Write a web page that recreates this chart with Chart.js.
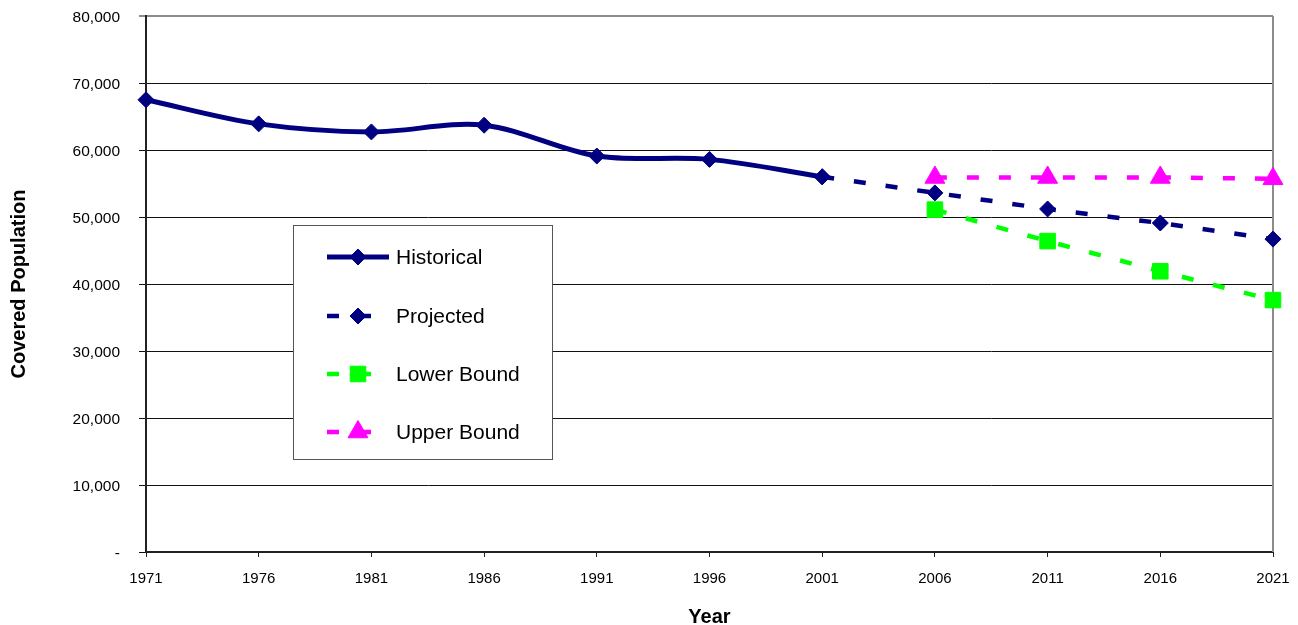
<!DOCTYPE html>
<html>
<head>
<meta charset="utf-8">
<title>Covered Population</title>
<script src="https://cdn.jsdelivr.net/npm/chart.js@4/dist/chart.umd.min.js"></script>
<style>
  html, body { margin: 0; padding: 0; background: #fff; }
  #wrap { width: 1298px; height: 625px; }
</style>
</head>
<body>
<div id="wrap"><canvas id="chart" width="1298" height="625"></canvas></div>
<script>
// Census years on the horizontal axis
const years = ['1971', '1976', '1981', '1986', '1991', '1996', '2001', '2006', '2011', '2016', '2021'];

// Covered population by year (null where a series has no value)
const historical = [67500, 63900, 62700, 63700, 59100, 58600, 56000, null, null, null, null];
const projected  = [null, null, null, null, null, null, 56000, 53600, 51200, 49100, 46700];
const lowerBound = [null, null, null, null, null, null, null, 51100, 46400, 41900, 37600];
const upperBound = [null, null, null, null, null, null, null, 55900, 55900, 55900, 55700];

// Vertical axis range
const yMin = 0;
const yMax = 80000;
const yStep = 10000;

const FONT = "'Liberation Sans', Arial, Helvetica, sans-serif";
const NAVY = '#000080';
const GREEN = '#00FF00';
const MAGENTA = '#FF00FF';

// Let the layout padding alone decide the plot edges
function clearScalePadding(scale) {
  scale.paddingTop = 0;
  scale.paddingBottom = 0;
  scale.paddingLeft = 0;
  scale.paddingRight = 0;
}

// Frame line on the right of the plotting area
const framePlugin = {
  id: 'frame',
  beforeDatasetsDraw(chart) {
    const { ctx, chartArea: a } = chart;
    ctx.save();
    ctx.strokeStyle = '#8c8c8c';
    ctx.lineWidth = 2;
    ctx.beginPath();
    ctx.moveTo(a.right, a.top);
    ctx.lineTo(a.right, a.bottom);
    ctx.stroke();
    ctx.restore();
  }
};

// Boxed legend placed inside the plotting area
const boxLegendPlugin = {
  id: 'boxLegend',
  afterDraw(chart) {
    const { ctx, chartArea: a } = chart;
    const left = a.left + 147;
    const top = a.top + 209;
    const w = 259;
    const h = 234;
    ctx.save();
    ctx.fillStyle = '#ffffff';
    ctx.fillRect(left, top, w, h);
    ctx.strokeStyle = '#555555';
    ctx.lineWidth = 1;
    ctx.strokeRect(left + 0.5, top + 0.5, w, h);

    const rowY = [32, 91, 149, 207];
    chart.data.datasets.forEach((ds, i) => {
      const y = top + rowY[i];
      const x0 = left + 34;
      const x1 = left + 96;
      ctx.save();
      ctx.strokeStyle = ds.borderColor;
      ctx.lineWidth = ds.borderWidth;
      ctx.lineCap = 'butt';
      ctx.setLineDash(ds.borderDash || []);
      ctx.beginPath();
      ctx.moveTo(x0, y);
      ctx.lineTo(x1, y);
      ctx.stroke();
      ctx.restore();

      ctx.save();
      ctx.fillStyle = ds.pointBackgroundColor;
      ctx.strokeStyle = ds.pointBorderColor;
      ctx.lineWidth = ds.pointBorderWidth;
      Chart.helpers.drawPoint(ctx, {
        pointStyle: ds.pointStyle,
        radius: ds.pointRadius,
        borderWidth: ds.pointBorderWidth,
        rotation: 0
      }, (x0 + x1) / 2, y);
      ctx.restore();

      ctx.fillStyle = '#000000';
      ctx.font = '21px ' + FONT;
      ctx.textAlign = 'left';
      ctx.textBaseline = 'middle';
      ctx.fillText(ds.label, left + 103, y + 1);
    });
    ctx.restore();
  }
};

new Chart(document.getElementById('chart'), {
  type: 'line',
  data: {
    labels: years,
    datasets: [
      {
        label: 'Historical',
        data: historical,
        borderColor: NAVY,
        borderWidth: 5,
        tension: 0.33,
        pointStyle: 'rectRot',
        pointRadius: 8,
        pointBackgroundColor: NAVY,
        pointBorderColor: NAVY,
        pointBorderWidth: 1
      },
      {
        label: 'Projected',
        data: projected,
        borderColor: NAVY,
        borderWidth: 4.5,
        borderDash: [12, 20],
        tension: 0,
        pointStyle: 'rectRot',
        pointRadius: 8,
        pointBackgroundColor: NAVY,
        pointBorderColor: NAVY,
        pointBorderWidth: 1
      },
      {
        label: 'Lower Bound',
        data: lowerBound,
        borderColor: GREEN,
        borderWidth: 4.5,
        borderDash: [12, 20],
        tension: 0,
        pointStyle: 'rect',
        pointRadius: 11,
        pointBackgroundColor: GREEN,
        pointBorderColor: GREEN,
        pointBorderWidth: 1
      },
      {
        label: 'Upper Bound',
        data: upperBound,
        borderColor: MAGENTA,
        borderWidth: 4.5,
        borderDash: [12, 20],
        tension: 0,
        pointStyle: 'triangle',
        pointRadius: 11.5,
        pointBackgroundColor: MAGENTA,
        pointBorderColor: MAGENTA,
        pointBorderWidth: 1
      }
    ]
  },
  options: {
    responsive: false,
    animation: false,
    events: [],
    layout: { padding: { top: 16, right: 25, left: 0, bottom: 0 } },
    plugins: {
      legend: { display: false },
      tooltip: { enabled: false }
    },
    scales: {
      x: {
        type: 'category',
        offset: false,
        grid: {
          display: true,
          drawOnChartArea: false,
          drawTicks: true,
          tickLength: 5,
          color: '#222222',
          lineWidth: 1
        },
        border: { display: true, color: '#222222', width: 2 },
        ticks: {
          color: '#000000',
          font: { family: FONT, size: 15 },
          padding: 13,
          maxRotation: 0,
          autoSkip: false
        },
        title: {
          display: true,
          text: 'Year',
          color: '#000000',
          font: { family: FONT, size: 20, weight: 'bold', lineHeight: 1 },
          padding: { top: 0, bottom: -2 }
        },
        afterFit(scale) {
          scale.height = 73;
          clearScalePadding(scale);
        }
      },
      y: {
        min: yMin,
        max: yMax,
        grid: {
          display: true,
          drawTicks: true,
          tickLength: 7,
          color: (c) => (c.tick && c.tick.value === yMax ? '#8c8c8c' : '#111111'),
          lineWidth: (c) => (c.tick && c.tick.value === yMax ? 2 : 1)
        },
        border: { display: true, color: '#222222', width: 2 },
        ticks: {
          stepSize: yStep,
          color: '#000000',
          font: { family: FONT, size: 15.5 },
          padding: 19,
          labelOffset: 2,
          callback: (v) => (v === 0 ? '-' : Number(v).toLocaleString('en-US'))
        },
        title: {
          display: true,
          text: 'Covered Population',
          color: '#000000',
          font: { family: FONT, size: 20, weight: 'bold', lineHeight: 1 },
          padding: { top: 9, bottom: 0 }
        },
        afterFit(scale) {
          scale.width = 146;
          clearScalePadding(scale);
        }
      }
    }
  },
  plugins: [framePlugin, boxLegendPlugin]
});
</script>
</body>
</html>
